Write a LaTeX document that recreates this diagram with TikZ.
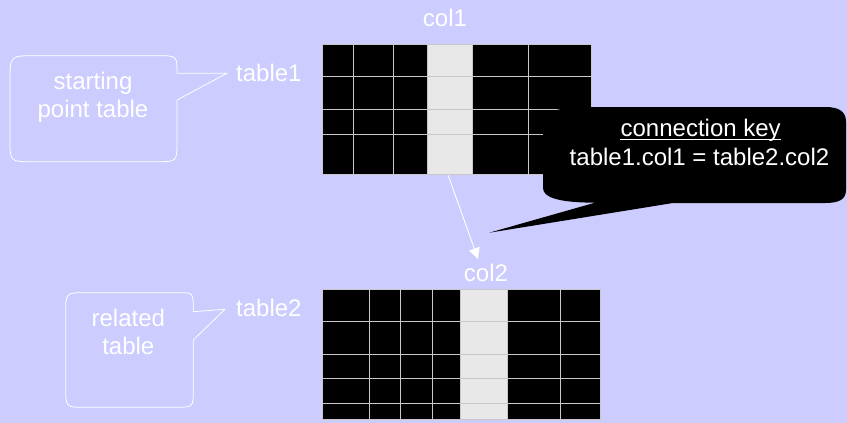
\documentclass[tikz,border=0pt]{standalone}
\usepackage{fontspec}
\setmainfont{Liberation Sans}
\usetikzlibrary{arrows.meta,calc}
\definecolor{bg}{RGB}{204,204,255}
\definecolor{hl}{RGB}{232,232,232}
\definecolor{gridc}{RGB}{200,200,200}
\tikzset{
  lbl/.style={text=white,font=\fontsize{24}{28}\selectfont,inner sep=0pt,anchor=base},
  btext/.style={text=white,font=\fontsize{24}{28}\selectfont,inner sep=0pt,align=center,anchor=base},
  bubble/.style={draw=white,line width=0.8pt,line join=round},
  cellline/.style={draw=gridc,line width=1pt},
  conn/.style={draw=white,line width=0.9pt,-{Triangle[width=11pt,length=11pt]}}
}
\begin{document}
\begin{tikzpicture}[x=1pt,y=-1pt]
\useasboundingbox (0,0) rectangle (847,423);
\fill[bg] (0,0) rectangle (847,423);

% table1
\fill[black] (322,44) rectangle (591.5,174);
\node[fill=hl,inner sep=0pt,minimum width=45.4pt,minimum height=130pt,anchor=north west] (t1col) at (427.3,44) {};
\draw[cellline] (322,44) rectangle (591.5,174);
\foreach \x in {353.3,393.3,427.3,472.7,528.3} \draw[cellline] (\x,44) -- (\x,174);
\foreach \y in {76.7,109.3,134} \draw[cellline] (322,\y) -- (591.5,\y);
\node[lbl] (col1) at (445,26.7) {col1};
\node[lbl,anchor=base west] (table1) at (236,81.7) {table1};

% table2
\fill[black] (322,289) rectangle (600,419);
\node[fill=hl,inner sep=0pt,minimum width=47.3pt,minimum height=130pt,anchor=north west] (t2col) at (460,289) {};
\draw[cellline] (322,289) rectangle (600,419);
\foreach \x in {369,400.7,432.7,460,507.3,560} \draw[cellline] (\x,289) -- (\x,419);
\foreach \y in {321.7,354.3,378.7,403.3} \draw[cellline] (322,\y) -- (600,\y);
\node[lbl] (col2) at (486,281.7) {col2};
\node[lbl,anchor=base west] (table2) at (236,316.7) {table2};

% bubble 1
\coordinate (tip1) at (227,73.3);
\draw[bubble] (177,100) -- (177,141.7) .. controls (177,161.7) .. (157,161.7)
  -- (32,161.7) .. controls (10,161.7) .. (10,139.7)
  -- (10,80.7) .. controls (10,55.7) .. (35,55.7)
  -- (158,55.7) .. controls (177,55.7) .. (177,73.3) -- (tip1) -- cycle;
\node[btext] (b1) at (93,117) {starting\\point table};

% bubble 3
\coordinate (tip3) at (225,309.3);
\draw[bubble] (193.3,340) -- (193.3,389.3) .. controls (193.3,407.3) .. (175.3,407.3)
  -- (85.7,407.3) .. controls (65.7,407.3) .. (65.7,387.3)
  -- (65.7,312.7) .. controls (65.7,292.7) .. (85.7,292.7)
  -- (180,292.7) .. controls (193.3,292.7) .. (193.3,311.7) -- (tip3) -- cycle;
\node[btext] (b3) at (128.3,354) {related\\table};

% connector
\coordinate (arrend) at (478,259);
\draw[conn] ($(t1col.south)+(-2,1)$) -- (arrend);

% bubble 2
\coordinate (tip2) at (489.3,232.7);
\fill[black] (tip2) -- (595,202.7) .. controls (560,202.5) and (543,198) .. (543,188) -- (543,122) .. controls (543,111) and (560,107) .. (590,107) -- (825,107) .. controls (840,107) and (846,112) .. (846,122) -- (846,190) .. controls (846,200) and (838,203) .. (825,203) -- (673,203) -- cycle;
\node[lbl] (ck) at (700.7,136.7) {connection key};
\draw[white,line width=1pt] ($(ck.base west)+(0,3)$) -- ($(ck.base east)+(0,3)$);
\node[lbl] (eq) at (699.5,165) {table1.col1 = table2.col2};
\end{tikzpicture}
\end{document}
